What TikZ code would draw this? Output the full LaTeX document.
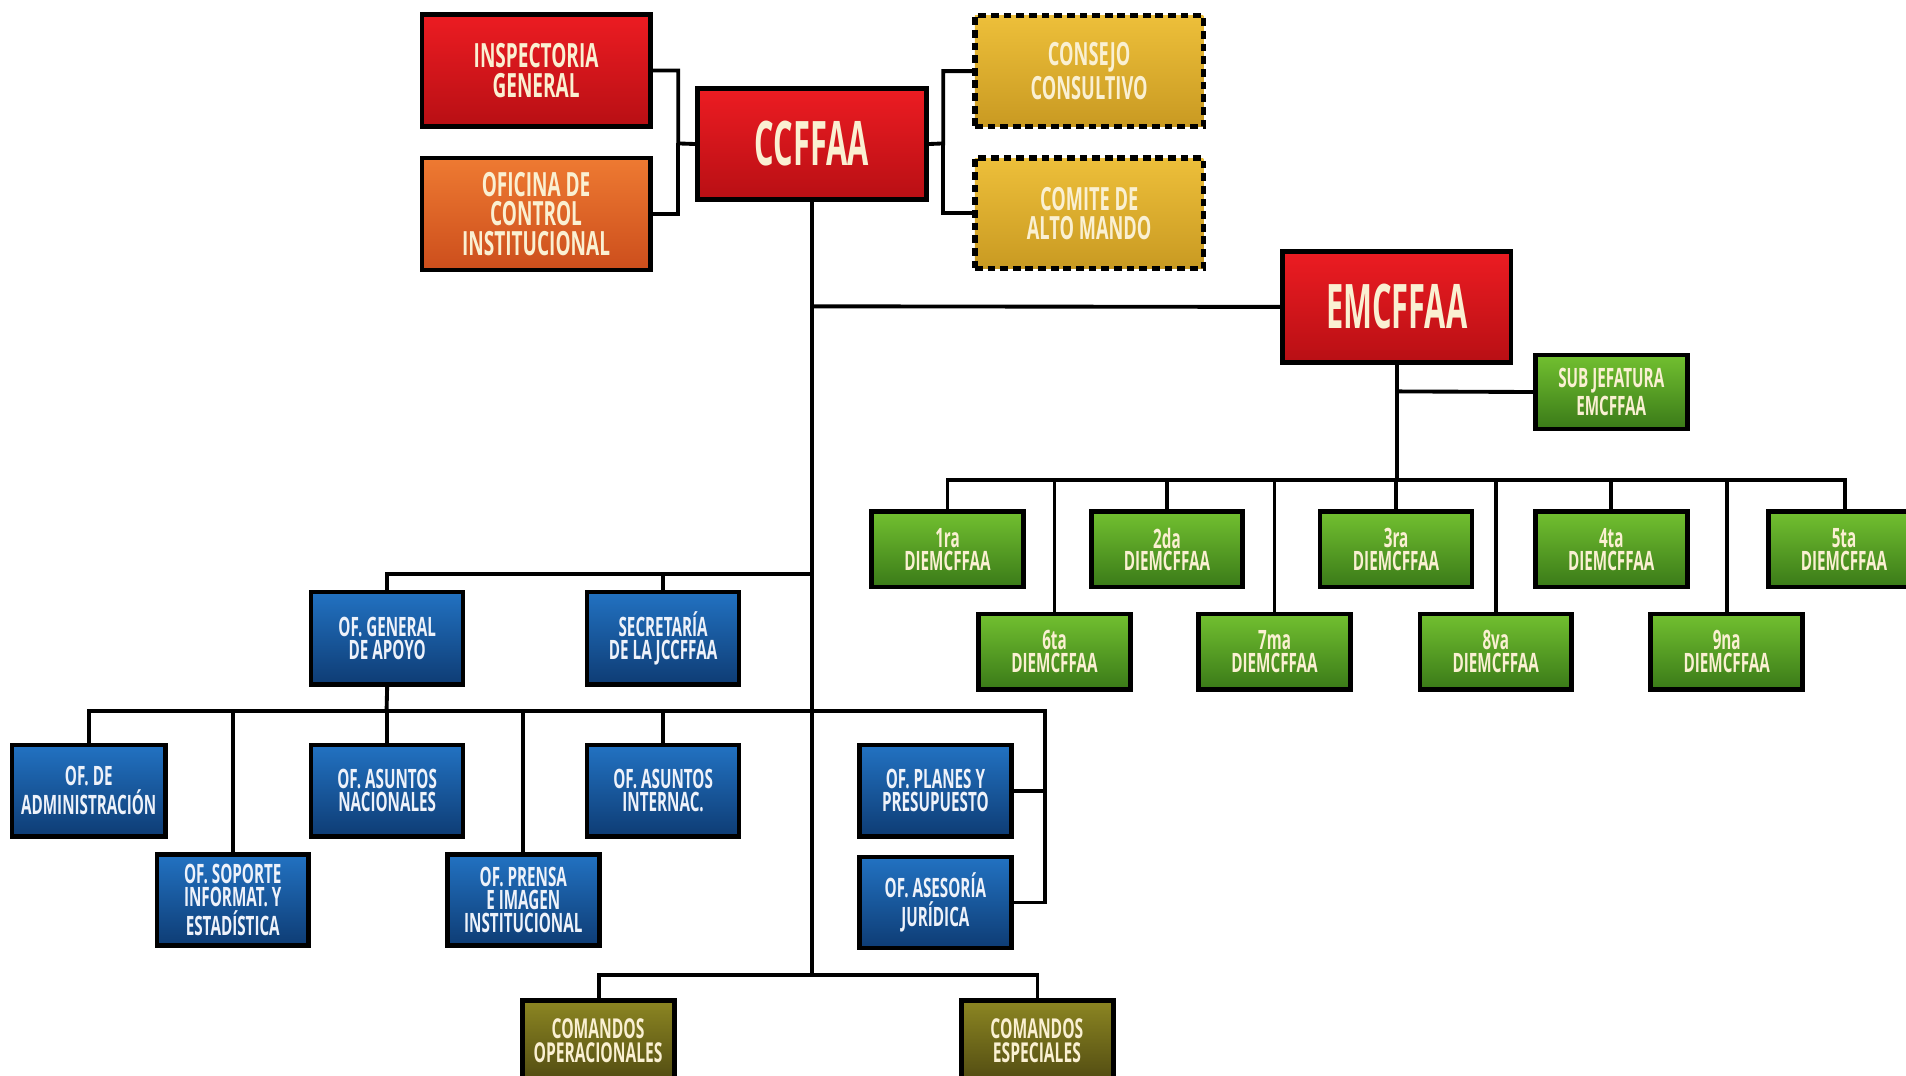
\documentclass[tikz,border=0pt]{standalone}
\usepackage{fontspec}
\setmainfont{Open Sans}[FakeStretch=0.57]
\newfontfamily\bigfont{Open Sans}[FakeStretch=0.5]
\usetikzlibrary{fit}
\definecolor{redT}{HTML}{EC1C22}
\definecolor{redB}{HTML}{B80F14}
\definecolor{orT}{HTML}{EE7A32}
\definecolor{orB}{HTML}{CC4E1C}
\definecolor{goT}{HTML}{EDBF3A}
\definecolor{goB}{HTML}{C99A22}
\definecolor{grT}{HTML}{72C030}
\definecolor{grB}{HTML}{3A7A18}
\definecolor{blT}{HTML}{2272C2}
\definecolor{blB}{HTML}{0E3C74}
\definecolor{olT}{HTML}{8C8622}
\definecolor{olB}{HTML}{4A4410}
\definecolor{cream}{HTML}{FAF0D2}
\definecolor{bltext}{HTML}{EEF2FA}
\tikzset{
  boxbase/.style={draw=black, line width=1.3pt, inner sep=0pt},
  redbox/.style={boxbase, top color=redT, bottom color=redB},
  orbox/.style={boxbase, top color=orT, bottom color=orB},
  gobox/.style={boxbase, top color=goT, bottom color=goB, dash pattern=on 2.2pt off 1.4pt, line width=1.5pt},
  grbox/.style={boxbase, top color=grT, bottom color=grB},
  blbox/.style={boxbase, top color=blT, bottom color=blB},
  olbox/.style={boxbase, top color=olT, bottom color=olB},
  lbl/.style={inner sep=0pt, align=center, text=cream},
  redtxt/.style={lbl, font=\fontsize{9.5}{8.4}\selectfont\bfseries},
  bigtxt/.style={lbl, font=\bigfont\fontsize{17.5}{17.5}\selectfont\bfseries},
  gotxt/.style={lbl, font=\fontsize{9.1}{8.2}\selectfont\bfseries},
  grtxt/.style={lbl, font=\fontsize{7.6}{6.5}\selectfont\bfseries},
  bltxt/.style={lbl, text=bltext, font=\fontsize{7.6}{6.6}\selectfont\bfseries},
  oltxt/.style={lbl, font=\fontsize{7.8}{7.0}\selectfont\bfseries},
  link/.style={draw=black, line width=1.1pt},
}
\begin{document}
\begin{tikzpicture}[x=0.012156cm, y=-0.012156cm]
\useasboundingbox (0,0) rectangle (1568,885);
\fill[white] (0,0) rectangle (1568,885);
% red / orange / gold top
\node[redbox, fit={(347,12) (535,104)}] (ig) {};
\node[orbox, fit={(347,130) (535,222)}] (oc) {};
\node[redbox, fit={(574,73) (762,164)}] (cc) {};
\node[gobox, fit={(802,13) (990,104)}] (cs) {};
\node[gobox, fit={(802,130) (990,221)}] (cam) {};
\node[redbox, fit={(1055,207) (1243,298)}] (em) {};
% green
\node[grbox, fit={(1263,292) (1388,353)}] (sj) {};
\node[grbox, fit={(717,421) (842,483)}] (d1) {};
\node[grbox, fit={(898,421) (1022,483)}] (d2) {};
\node[grbox, fit={(1086,421) (1211,483)}] (d3) {};
\node[grbox, fit={(1263,421) (1388,483)}] (d4) {};
\node[grbox, fit={(1455,421) (1580,483)}] (d5) {};
\node[grbox, fit={(805,505) (930,567)}] (d6) {};
\node[grbox, fit={(986,505) (1111,567)}] (d7) {};
\node[grbox, fit={(1168,505) (1293,567)}] (d8) {};
\node[grbox, fit={(1358,505) (1483,567)}] (d9) {};
% blue
\node[blbox, fit={(256,487) (381,563)}] (ga) {};
\node[blbox, fit={(483,487) (608,563)}] (sec) {};
\node[blbox, fit={(10,613) (136,688)}] (adm) {};
\node[blbox, fit={(256,613) (381,688)}] (nac) {};
\node[blbox, fit={(483,613) (608,688)}] (int) {};
\node[blbox, fit={(707,613) (832,688)}] (pla) {};
\node[blbox, fit={(129,703) (254,778)}] (sop) {};
\node[blbox, fit={(368,703) (493,778)}] (pre) {};
\node[blbox, fit={(707,705) (832,780)}] (ase) {};
% olive
\node[olbox, fit={(430,823) (555,898)}] (co) {};
\node[olbox, fit={(791,823) (916,898)}] (ce) {};
% labels
\node[redtxt] (igT) at (ig.center) {INSPECTORIA\\GENERAL};
\node[redtxt] (ocT) at (oc.center) {OFICINA DE\\CONTROL\\INSTITUCIONAL};
\node[bigtxt] (ccT) at (cc.center) {CCFFAA};
\node[gotxt] (csT) at (cs.center) {CONSEJO\\CONSULTIVO};
\node[gotxt] (camT) at (cam.center) {COMITE DE\\ALTO MANDO};
\node[bigtxt] (emT) at (em.center) {EMCFFAA};
\node[grtxt] (sjT) at (sj.center) {SUB JEFATURA\\EMCFFAA};
\node[grtxt] (d1T) at (d1.center) {1ra\\DIEMCFFAA};
\node[grtxt] (d2T) at (d2.center) {2da\\DIEMCFFAA};
\node[grtxt] (d3T) at (d3.center) {3ra\\DIEMCFFAA};
\node[grtxt] (d4T) at (d4.center) {4ta\\DIEMCFFAA};
\node[grtxt] (d5T) at (1517,452) {5ta\\DIEMCFFAA};
\node[grtxt] (d6T) at (d6.center) {6ta\\DIEMCFFAA};
\node[grtxt] (d7T) at (d7.center) {7ma\\DIEMCFFAA};
\node[grtxt] (d8T) at (d8.center) {8va\\DIEMCFFAA};
\node[grtxt] (d9T) at (d9.center) {9na\\DIEMCFFAA};
\node[bltxt] (gaT) at (ga.center) {OF. GENERAL\\DE APOYO};
\node[bltxt] (secT) at (sec.center) {SECRETARÍA\\DE LA JCCFFAA};
\node[bltxt] (admT) at (adm.center) {OF. DE\\ADMINISTRACIÓN};
\node[bltxt] (nacT) at (nac.center) {OF. ASUNTOS\\NACIONALES};
\node[bltxt] (intT) at (int.center) {OF. ASUNTOS\\INTERNAC.};
\node[bltxt] (plaT) at (pla.center) {OF. PLANES Y\\PRESUPUESTO};
\node[bltxt] (sopT) at (sop.center) {OF. SOPORTE\\INFORMAT. Y\\ESTADÍSTICA};
\node[bltxt] (preT) at (pre.center) {OF. PRENSA\\E IMAGEN\\INSTITUCIONAL};
\node[bltxt] (aseT) at (ase.center) {OF. ASESORÍA\\JURÍDICA};
\node[oltxt] (coT) at (492,856) {COMANDOS\\OPERACIONALES};
\node[oltxt] (ceT) at (853,856) {COMANDOS\\ESPECIALES};
% junctions
\coordinate (lj) at (558,118);
\coordinate (rj) at (776,118);
\coordinate (t1) at (668,252);
\coordinate (eb) at (1149,395);
\coordinate (sjj) at (1149,322);
\coordinate (b1) at (668,472);
\coordinate (b2) at (318,585);
\coordinate (b2r) at (860,585);
\coordinate (b3) at (668,802);
% connectors
\draw[link] (ig.east) -| (lj) -- (cc.west);
\draw[link] (oc.east) -| (lj);
\draw[link] (cc.east) -- (rj) |- (cs.west);
\draw[link] (rj) |- (cam.west);
\draw[link] (cc.south) -- (b3);
\draw[link] (t1) -- (em.west);
\draw[link] (em.south) -- (eb);
\draw[link] (sjj) -- (sj.west);
\draw[link] (d1.north) -- (d1.north |- eb) -- (d5.north |- eb) -- (d5.north);
\foreach \n in {d2,d3,d4,d6,d7,d8,d9}{\draw[link] (\n.north) -- (\n.north |- eb);}
\draw[link] (b1) -| (ga.north);
\draw[link] (sec.north) -- (sec.north |- b1);
\draw[link] (ga.south) -- (b2);
\draw[link] (adm.north) -- (adm.north |- b2) -- (b2r) |- (ase.east);
\draw[link] (pla.east) -- (pla.east -| b2r);
\foreach \n in {sop,nac,pre,int}{\draw[link] (\n.north) -- (\n.north |- b2);}
\draw[link] (co.north) |- (b3) -| (ce.north);
\end{tikzpicture}
\end{document}
